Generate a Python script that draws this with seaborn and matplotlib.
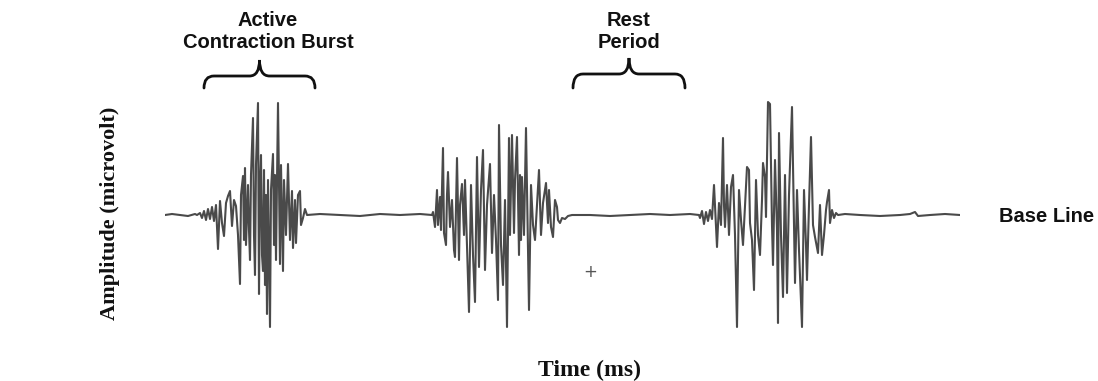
import numpy as np
import pandas as pd
import matplotlib
matplotlib.use("Agg")
import matplotlib.pyplot as plt
from matplotlib.path import Path
from matplotlib.patches import PathPatch
import seaborn as sns

# EMG trace: time (ms) and amplitude (microvolt, 0 = base line)
lead_t = [165, 172, 180, 188, 195]
lead_v = [0, 1, 0, -1, 1]

burst1_t = [197, 200, 202, 204, 206, 208, 210, 212, 214, 216, 218, 220, 222, 224, 226,
            228, 230, 232, 234, 236, 238, 240, 241, 243, 244, 245, 246, 248, 249, 250,
            251, 253, 254, 255, 256, 258, 259, 260, 261, 262, 263, 264, 265, 266, 267,
            268, 270, 271, 273, 274, 275, 276, 278, 280, 281, 283, 284, 286, 288, 290,
            292, 293, 295, 296, 298, 300, 301, 303, 305, 307]
burst1_v = [0, 2, -3, 4, -5, 6, -4, 8, -6, 10, -34, 14, -8, -21, 12,
            19, 24, -11, 15, 9, -20, -69, 20, 39, -25, 47, -30, 30, -15, -45,
            40, 97, -20, -60, 50, 112, -79, 30, 60, -40, -56, 45, -70, 20, -99,
            35, -112, 25, 61, -30, 40, -45, 112, -49, 50, -56, 35, -20, 51, -25,
            24, -33, 15, -28, 20, 24, -10, -3, 6, 0]

rest1_t = [320, 340, 360, 380, 400, 420, 432]
rest1_v = [1, 0, -1, 1, 0, 1, 0]

burst2_t = [433, 435, 437, 438, 440, 441, 443, 444, 446, 447, 448, 450, 452, 454, 455,
            457, 459, 460, 462, 464, 465, 467, 469, 471, 473, 475, 477, 479, 481, 483,
            485, 487, 490, 492, 494, 496, 498, 499, 501, 503, 505, 507, 509, 510, 512,
            514, 515, 517, 519, 520, 521, 522, 524, 526, 528, 529, 531, 533, 535, 537,
            539, 541, 543, 546, 548, 549, 551, 553, 555, 557, 558, 560, 562, 565, 568, 572]
burst2_v = [3, -12, 25, -10, 18, -15, 67, -18, -30, 20, 43, -12, 15, -35, -42,
            57, -45, 10, 31, -20, 35, -30, -97, 30, -40, -87, 58, -52, 25, 65,
            -55, 10, 51, -38, 20, -25, -85, 90, -30, -70, 15, -112, 77, -20, 80,
            -18, 35, 78, -40, 40, -25, 38, -20, 87, -30, -95, 30, -10, -25, 10,
            45, -20, 12, 32, -8, 25, -12, -22, 15, 8, -5, -8, -3, -4, -1, 0]

rest2_t = [590, 610, 630, 650, 670, 690, 699]
rest2_v = [0, -1, 0, 1, 0, 1, 0]

burst3_t = [700, 702, 704, 706, 708, 710, 712, 714, 715, 717, 719, 721, 723, 724, 725,
            727, 729, 731, 733, 735, 737, 739, 741, 743, 745, 747, 749, 750, 752, 754,
            756, 758, 760, 762, 763, 765, 766, 768, 770, 772, 773, 775, 777, 778, 779,
            781, 783, 785, 787, 789, 792, 794, 795, 797, 799, 802, 804, 806, 807, 809,
            811, 813, 815, 818, 820, 822, 824, 826, 827, 829, 830, 832, 834, 836, 838]
burst3_v = [-3, 4, -9, 3, -6, 5, -4, 30, 10, -32, 12, -10, 77, 10, -12,
            30, -20, 28, 40, -20, -112, 25, -5, -30, 10, 48, 45, -8, -25, -75,
            35, -20, -40, 15, 52, 38, -2, 113, 111, -10, -50, 55, -15, -108, 82,
            -20, -82, 40, -78, 20, 108, -10, -68, 25, -35, -112, 25, -30, -65, 10,
            78, -10, -22, -38, 10, -40, -20, 5, 13, 25, -8, 5, -3, 2, 0]

tail_t = [845, 860, 880, 900, 910, 915, 918, 930, 945, 960]
tail_v = [1, 0, -1, 0, 1, 3, -1, 0, 1, 0]

df = pd.DataFrame({
    "time_ms": lead_t + burst1_t + rest1_t + burst2_t + rest2_t + burst3_t + tail_t,
    "amplitude_uv": lead_v + burst1_v + rest1_v + burst2_v + rest2_v + burst3_v + tail_v,
})

sns.set_style("white")
W, H = 1098, 381
fig = plt.figure(figsize=(W / 100, H / 100), dpi=100)

# signal axes
ax = fig.add_axes([165 / W, (H - 335) / H, 795 / W, 240 / H])
sns.lineplot(data=df, x="time_ms", y="amplitude_uv", estimator=None, sort=False,
             color="#4a4a4a", linewidth=1.5, ax=ax)
ax.set_xlim(165, 960)
ax.set_ylim(-120, 120)
ax.axis("off")

# overlay for the braces (pixel-like coordinates)
ov = fig.add_axes([0, 0, 1, 1], facecolor="none")
ov.set_xlim(0, W)
ov.set_ylim(H, 0)
ov.axis("off")


def brace(x0, x1, y_end, y_arm, y_tip, r=10):
    xc = (x0 + x1) / 2
    verts = [(x0, y_end), (x0, y_arm), (x0 + r, y_arm), (xc - r, y_arm),
             (xc, y_arm), (xc, y_tip), (xc, y_arm), (xc + r, y_arm),
             (x1 - r, y_arm), (x1, y_arm), (x1, y_end)]
    codes = [Path.MOVETO, Path.CURVE3, Path.CURVE3, Path.LINETO,
             Path.CURVE3, Path.CURVE3, Path.CURVE3, Path.CURVE3,
             Path.LINETO, Path.CURVE3, Path.CURVE3]
    ov.add_patch(PathPatch(Path(verts, codes), fill=False, lw=2.0,
                           edgecolor="#111111", capstyle="round"))


brace(204, 315, 88, 76, 60)
brace(573, 685, 88, 74, 58)

sans = dict(family="Liberation Sans", fontweight="bold", color="#111111")
serif = dict(family="Liberation Serif", fontweight="bold", color="#111111")

fig.text(268 / W, 1 - 21 / H, "Active", ha="center", va="center", fontsize=14.5, **sans)
fig.text(268 / W, 1 - 42 / H, "Contraction Burst", ha="center", va="center", fontsize=14.5, **sans)
fig.text(629 / W, 1 - 21 / H, "Rest", ha="center", va="center", fontsize=14.5, **sans)
fig.text(629 / W, 1 - 43 / H, "Period", ha="center", va="center", fontsize=14.5, **sans)
fig.text(1047 / W, 1 - 216 / H, "Base Line", ha="center", va="center", fontsize=14.5, **sans)

fig.text(110 / W, 1 - 213 / H, "Amplitude (microvolt)", ha="center", va="center",
         rotation=90, fontsize=16, **serif)
fig.text(589 / W, 1 - 370 / H, "Time (ms)", ha="center", va="center", fontsize=17, **serif)
fig.text(590 / W, 1 - 272 / H, "+", ha="center", va="center", fontsize=12,
         family="DejaVu Sans", color="#555555")

fig.savefig("out.png", dpi=100)
